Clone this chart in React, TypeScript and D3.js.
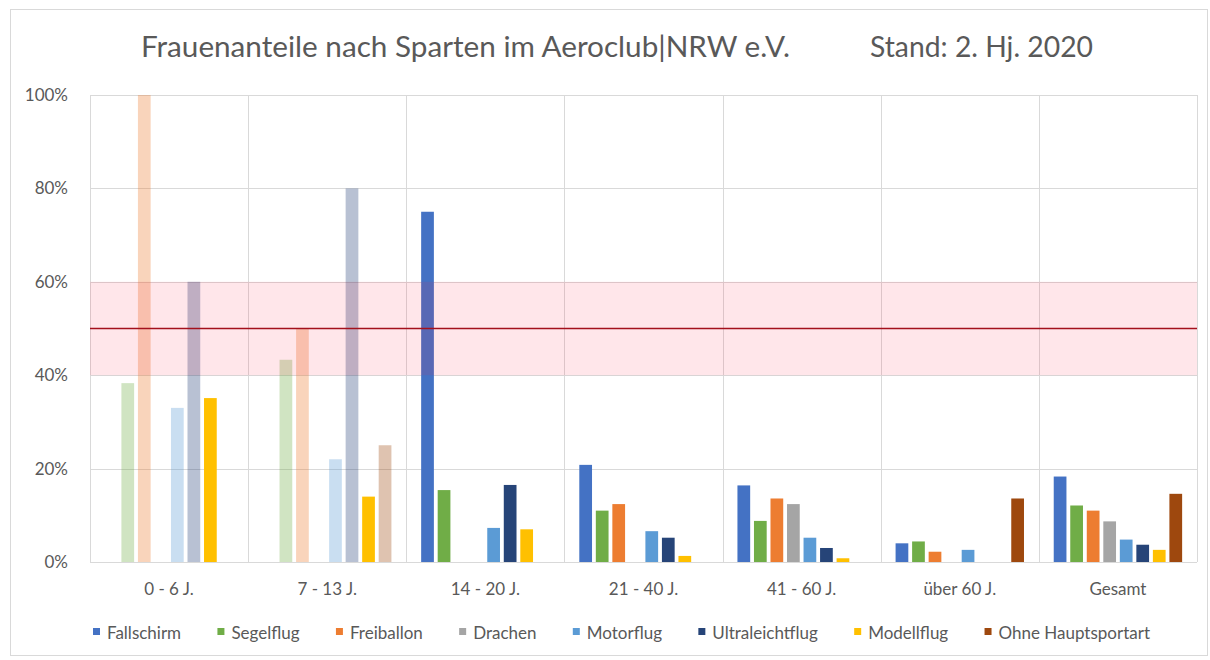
import React, { useEffect, useRef } from 'react';
import * as d3 from 'd3';

const categories = ["0 - 6 J.", "7 - 13 J.", "14 - 20 J.", "21 - 40 J.", "41 - 60 J.", "über 60 J.", "Gesamt"];
const seriesNames = ["Fallschirm", "Segelflug", "Freiballon", "Drachen", "Motorflug", "Ultraleichtflug", "Modellflug", "Ohne Hauptsportart"];
const seriesColors = ["#4472C4", "#70AD47", "#ED7D31", "#A5A5A5", "#5B9BD5", "#264478", "#FFC000", "#9E480E"];

// Frauenanteil in % je Altersgruppe
const fallschirm = [0, 0, 75, 20.8, 16.4, 4.0, 18.3];
const segelflug = [38.3, 43.3, 15.4, 11.0, 8.8, 4.4, 12.1];
const freiballon = [100, 50, 0, 12.4, 13.6, 2.2, 11.0];
const drachen = [0, 0, 0, 0, 12.4, 0, 8.7];
const motorflug = [33.0, 22.0, 7.3, 6.6, 5.2, 2.6, 4.8];
const ultraleichtflug = [60, 80, 16.5, 5.2, 3.0, 0, 3.7];
const modellflug = [35.1, 14.0, 7.0, 1.3, 0.8, 0, 2.6];
const ohneHauptsportart = [0, 25, 0, 0, 0, 13.6, 14.6];

const seriesValues = [fallschirm, segelflug, freiballon, drachen, motorflug, ultraleichtflug, modellflug, ohneHauptsportart];

// groups shown faded (small numbers), except the highlighted series
const fadedCategories = ["0 - 6 J.", "7 - 13 J."];
const highlightedSeries = ["Modellflug"];

const yTicks = [0, 20, 40, 60, 80, 100];
const targetRange = [40, 60];
const targetLine = 50;

const titleMain = "Frauenanteile nach Sparten im Aeroclub|NRW e.V.";
const titleDate = "Stand: 2. Hj. 2020";

const W = 1210;
const H = 660;
const FONT = "Lato, 'Open Sans', sans-serif";
const TEXT = "#595959";
const GRID = "#d9d9d9";

const App = () => {
  const svgRef = useRef<SVGSVGElement>(null);

  useEffect(() => {
    const svg = d3.select(svgRef.current);
    svg.selectAll("*").remove();

    const plot = { left: 90, right: 1197, top: 95, bottom: 562 };

    // chart frame
    svg.append("rect")
      .attr("x", 10.5).attr("y", 9.5)
      .attr("width", 1197).attr("height", 646)
      .attr("fill", "#fff").attr("stroke", GRID);

    // title
    svg.append("text")
      .attr("x", 141).attr("y", 57)
      .attr("font-family", FONT).attr("font-size", 28)
      .attr("fill", TEXT)
      .attr("textLength", 649).attr("lengthAdjust", "spacingAndGlyphs")
      .text(titleMain);
    svg.append("text")
      .attr("x", 870).attr("y", 57)
      .attr("font-family", FONT).attr("font-size", 28)
      .attr("fill", TEXT)
      .attr("textLength", 223).attr("lengthAdjust", "spacingAndGlyphs")
      .text(titleDate);

    const x = d3.scaleBand().domain(categories).range([plot.left, plot.right]).padding(0);
    const xInner = d3.scaleBand().domain(seriesNames).range([0, x.bandwidth()])
      .paddingInner(0.23).paddingOuter(0.9);
    const y = d3.scaleLinear().domain([0, 100]).range([plot.bottom, plot.top]);

    const g = svg.append("g");

    // horizontal gridlines
    g.selectAll(".hgrid")
      .data(yTicks)
      .enter().append("line")
      .attr("x1", plot.left).attr("x2", plot.right)
      .attr("y1", d => Math.round(y(d)) + 0.5).attr("y2", d => Math.round(y(d)) + 0.5)
      .attr("stroke", GRID);

    // vertical gridlines at category boundaries
    const bounds = categories.map(c => x(c) as number).concat([plot.right]);
    g.selectAll(".vgrid")
      .data(bounds)
      .enter().append("line")
      .attr("x1", d => Math.round(d) + 0.5).attr("x2", d => Math.round(d) + 0.5)
      .attr("y1", plot.top).attr("y2", plot.bottom)
      .attr("stroke", GRID);

    // y labels
    g.selectAll(".ylab")
      .data(yTicks)
      .enter().append("text")
      .attr("x", 68).attr("y", d => y(d) + 6)
      .attr("text-anchor", "end")
      .attr("font-family", FONT).attr("font-size", 17)
      .attr("fill", TEXT)
      .text(d => `${d}%`);

    // bars
    const barData: { cat: string; s: string; v: number; color: string; faded: boolean }[] = [];
    categories.forEach((cat, ci) => {
      seriesNames.forEach((s, si) => {
        barData.push({
          cat, s, v: seriesValues[si][ci], color: seriesColors[si],
          faded: fadedCategories.includes(cat) && !highlightedSeries.includes(s),
        });
      });
    });

    g.selectAll(".bar")
      .data(barData.filter(d => d.v > 0))
      .enter().append("rect")
      .attr("x", d => (x(d.cat) as number) + (xInner(d.s) as number))
      .attr("y", d => y(d.v))
      .attr("width", xInner.bandwidth())
      .attr("height", d => y(0) - y(d.v))
      .attr("fill", d => d.color)
      .attr("opacity", d => (d.faded ? 0.33 : 1));

    // target band and line
    g.append("rect")
      .attr("x", plot.left).attr("width", plot.right - plot.left)
      .attr("y", y(targetRange[1])).attr("height", y(targetRange[0]) - y(targetRange[1]))
      .attr("fill", "#ff1a3c").attr("opacity", 0.11);
    g.append("line")
      .attr("x1", plot.left).attr("x2", plot.right)
      .attr("y1", y(targetLine)).attr("y2", y(targetLine))
      .attr("stroke", "#a3101c").attr("stroke-width", 1.6);

    // x axis line
    g.append("line")
      .attr("x1", plot.left).attr("x2", plot.right)
      .attr("y1", plot.bottom + 0.5).attr("y2", plot.bottom + 0.5)
      .attr("stroke", GRID);

    // x labels
    g.selectAll(".xlab")
      .data(categories)
      .enter().append("text")
      .attr("x", d => (x(d) as number) + x.bandwidth() / 2)
      .attr("y", 595)
      .attr("text-anchor", "middle")
      .attr("font-family", FONT).attr("font-size", 17)
      .attr("fill", TEXT)
      .text(d => d);

    // legend, spread between the measured ends
    const legend = svg.append("g");
    const items = legend.selectAll(".leg")
      .data(seriesNames)
      .enter().append("g");
    items.append("rect")
      .attr("width", 7).attr("height", 7)
      .attr("y", 628)
      .attr("fill", (d, i) => seriesColors[i]);
    const labels = items.append("text")
      .attr("x", 14).attr("y", 639)
      .attr("font-family", FONT).attr("font-size", 17)
      .attr("fill", TEXT)
      .text(d => d);

    const widths: number[] = [];
    labels.each(function () {
      widths.push((this as SVGTextElement).getComputedTextLength() + 14);
    });
    const legStart = 93;
    const legEnd = 1150;
    const total = d3.sum(widths);
    const gap = (legEnd - legStart - total) / (seriesNames.length - 1);
    let cx = legStart;
    items.each(function (d, i) {
      d3.select(this).attr("transform", `translate(${cx},0)`);
      cx += widths[i] + gap;
    });
  }, []);

  return (
    <svg ref={svgRef} width={W} height={H}
      style={{ position: 'absolute', left: 0, top: 0, background: '#fff' }} />
  );
};

export default App;
